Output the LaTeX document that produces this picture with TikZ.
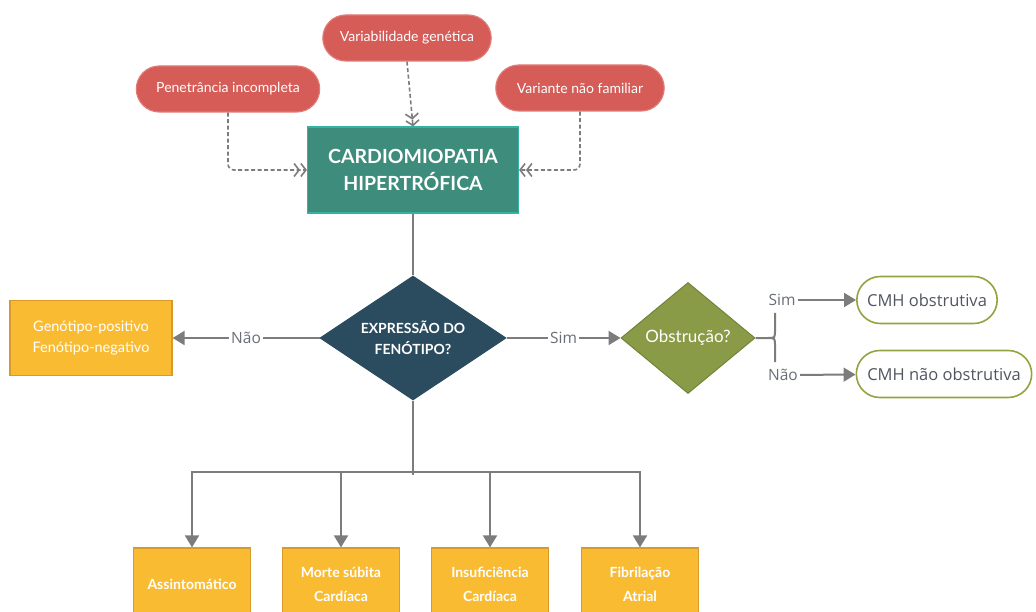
\documentclass[tikz,border=0pt]{standalone}
\usepackage{fontspec}
\setmainfont{Lato}
\newfontfamily\labelfont{Open Sans}
\usetikzlibrary{shapes.geometric,shapes.misc,arrows.meta}

\definecolor{causefill}{HTML}{D55C57}
\definecolor{causeline}{HTML}{E27A75}
\definecolor{mainfill}{HTML}{3E8C7B}
\definecolor{mainline}{HTML}{34B3A2}
\definecolor{boxfill}{HTML}{F9BB32}
\definecolor{boxline}{HTML}{D89A2A}
\definecolor{navy}{HTML}{2B4B5E}
\definecolor{olive}{HTML}{8A9B47}
\definecolor{oliveline}{HTML}{72833A}
\definecolor{pillline}{HTML}{90A540}
\definecolor{linkgray}{HTML}{7C7C7C}
\definecolor{textgray}{HTML}{505560}

\begin{document}
\begin{tikzpicture}[x=1pt,y=-1pt,
  cause/.style={rounded rectangle, draw=causeline, line width=1.2pt, fill=causefill,
    text=white, minimum height=46pt, font=\fontsize{14}{16}\selectfont},
  mainbox/.style={rectangle, draw=mainline, line width=1.2pt, fill=mainfill, text=white,
    minimum width=211pt, minimum height=86pt, align=center,
    font=\bfseries\fontsize{19.5}{27}\selectfont},
  outbox/.style={rectangle, draw=boxline, line width=1.2pt, fill=boxfill, text=white,
    align=center, inner sep=2pt},
  choice/.style={diamond, aspect=1.5, draw=#1, line width=1pt, fill=#1, text=white, align=center, inner sep=0pt},
  result/.style={rounded rectangle, draw=pillline, line width=1.6pt, fill=white,
    text=textgray, minimum height=47pt, font=\labelfont\fontsize{16.5}{19}\selectfont},
  answer/.style={fill=white, text=textgray!85, inner sep=2pt, font=\labelfont\fontsize{15.5}{18}\selectfont},
  link/.style={draw=linkgray, line width=2pt},
  arr/.style={link, -{Triangle[length=12pt,width=14pt]}},
  dashlink/.style={draw=linkgray, line width=1.6pt, dash pattern=on 4pt off 2.5pt, rounded corners=6pt,
    -{Straight Barb[length=5pt,width=13pt,line width=1.6pt]Straight Barb[length=5pt,width=13pt,line width=1.6pt]}}
]
\clip (0,0) rectangle (1036,612);
\useasboundingbox (0,0) rectangle (1036,612);

% causes
\node[cause, minimum width=175pt] (varg) at (407,38) {Variabilidade genética};
\node[cause, minimum width=190pt] (pen) at (228,89) {Penetrância incompleta};
\node[cause, minimum width=175pt] (varf) at (580,88) {Variante não familiar};
\node[mainbox] (cmh) at (413,170) {CARDIOMIOPATIA\\HIPERTRÓFICA};

\draw[dashlink] (pen.south) |- (cmh.west);
\draw[dashlink] (varg.south) -- (cmh.north);
\draw[dashlink] (varf.south) |- (cmh.east);

% phenotype
\node[choice=navy, minimum width=186pt, minimum height=124pt,
  font=\bfseries\fontsize{14}{21}\selectfont] (expr) at (413,338) {EXPRESSÃO DO\\FENÓTIPO?};
\draw[link] (cmh.south) -- (expr.north);

\node[outbox, minimum width=162pt, minimum height=75pt,
  font=\fontsize{14.5}{21}\selectfont] (geno) at (91,338) {Genótipo-positivo\\Fenótipo-negativo};
\draw[arr] (expr.west) -- node[answer] {Não} (geno.east);

\node[choice=olive, draw=oliveline, minimum width=134pt, minimum height=111pt,
  font=\fontsize{17}{20}\selectfont] (obs) at (688,338) {Obstrução?};
\draw[arr] (expr.east) -- node[answer] {Sim} (obs.west);

% obstruction
\draw[link] (obs.east) -- (768,338) .. controls (775,338) .. (775,330) -- (775,313);
\draw[link] (768,338) .. controls (775,338) .. (775,346) -- (775,362);
\node[answer] (simo) at (782,300) {Sim};
\node[answer] (naoo) at (783,375) {Não};
\node[result, minimum width=147pt] (obsyes) at (927,300) {CMH obstrutiva};
\node[result, minimum width=182pt] (obsno) at (944,374) {CMH não obstrutiva};
\draw[arr] (simo) -- (obsyes);
\draw[arr] (naoo) -- (obsno);

% outcomes
\coordinate (bus) at (413,472);
\draw[link] (expr.south) -- (413,475);
\foreach \name/\x/\txt in {asym/192/Assintomático, morte/341/Morte súbita\\Cardíaca,
    insuf/490/Insuficiência\\Cardíaca, fib/640/Fibrilação\\Atrial} {
  \node[outbox, minimum width=117pt, minimum height=72pt,
    font=\bfseries\fontsize{14}{24}\selectfont] (\name) at (\x,584) {\txt};
  \draw[arr] (bus) -| (\name.north);
}
\end{tikzpicture}
\end{document}
